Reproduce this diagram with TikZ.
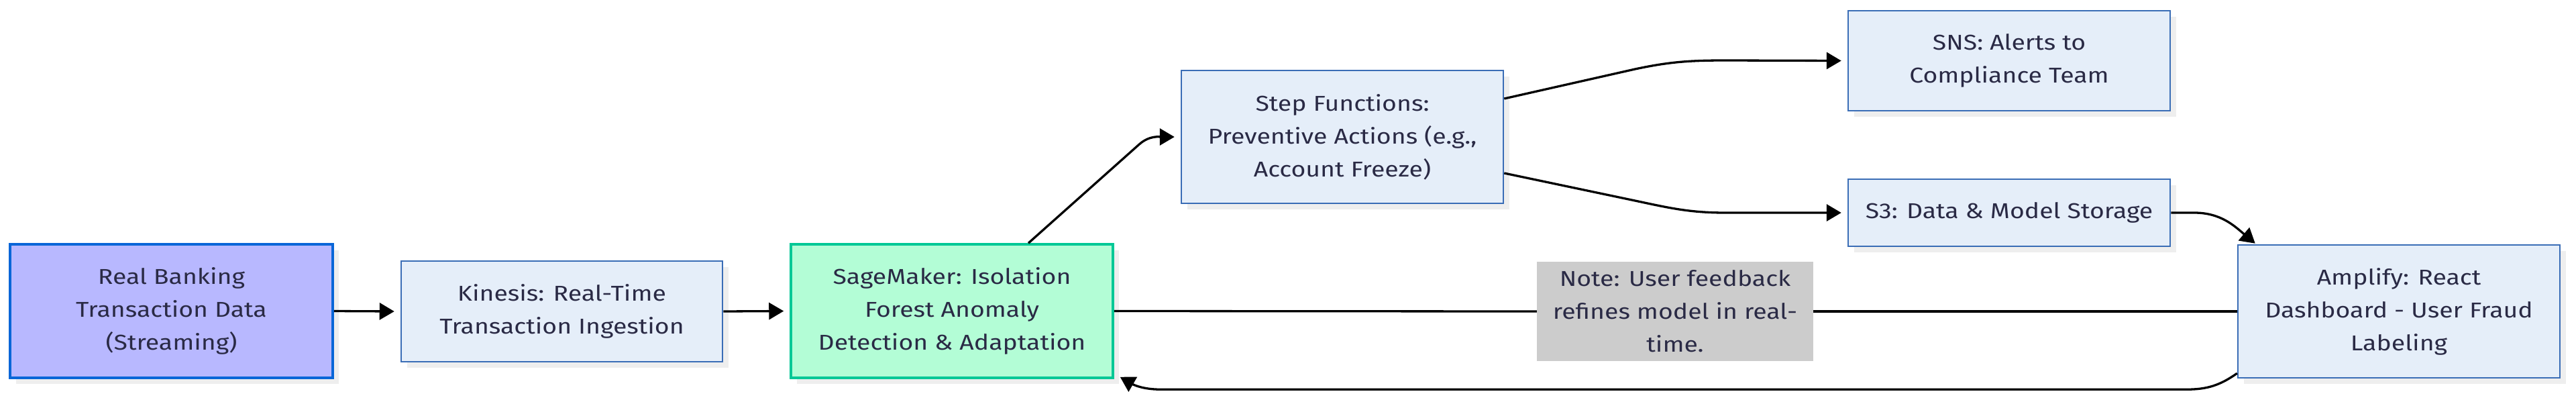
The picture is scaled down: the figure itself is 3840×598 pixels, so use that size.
\documentclass[tikz,border=0pt]{standalone}
\usepackage{fontspec}
\setmainfont{Fira Sans}[FakeStretch=1.17]
\usetikzlibrary{arrows.meta,shadows}
\definecolor{textc}{HTML}{2A2A45}
\definecolor{bluefill}{HTML}{E5EEF9}
\definecolor{bluebd}{HTML}{3A6DB6}
\definecolor{purfill}{HTML}{B8B8FF}
\definecolor{purbd}{HTML}{0A66D8}
\definecolor{grnfill}{HTML}{B3FDD6}
\definecolor{grnbd}{HTML}{00C896}
\definecolor{notefill}{HTML}{CCCCCC}
\definecolor{shadowc}{HTML}{EEEEEE}
\begin{document}
\begin{tikzpicture}[x=1pt,y=-1pt,
  box/.style={draw=bluebd, fill=bluefill, line width=2.5pt, inner sep=0pt, align=center,
    font=\fontsize{32}{49}\selectfont, text=textc, minimum width=480pt,
    general shadow={fill=shadowc, shadow xshift=9pt, shadow yshift=-9pt}},
  srcbox/.style={box, draw=purbd, fill=purfill, line width=3.5pt},
  mlbox/.style={box, draw=grnbd, fill=grnfill, line width=3.5pt},
  notebox/.style={fill=notefill, inner sep=0pt, align=center, text=textc,
    font=\fontsize{32}{49}\selectfont, minimum width=412pt, minimum height=148pt},
  link/.style={line width=3.3pt, draw=black},
  arr/.style={link, -{Triangle[length=22pt,width=25pt]}}]
\useasboundingbox (0,0) rectangle (3840,598);
\fill[white] (0,0) rectangle (3840,598);

\node[srcbox, minimum width=481pt, minimum height=199pt] (rb) at (255.5,463.5) {Real Banking\\Transaction Data\\(Streaming)};
\node[box, minimum width=479pt, minimum height=150pt] (kin) at (837.5,464) {Kinesis: Real-Time\\Transaction Ingestion};
\node[mlbox, minimum height=199pt] (sage) at (1419,463.5) {SageMaker: Isolation\\Forest Anomaly\\Detection \& Adaptation};
\node[box, minimum height=198pt] (step) at (2001,204) {Step Functions:\\Preventive Actions (e.g.,\\Account Freeze)};
\node[box, minimum height=149pt] (sns) at (2995,90.5) {SNS: Alerts to\\Compliance Team};
\node[box, minimum height=100pt] (s3) at (2995,317) {S3: Data \& Model Storage};
\node[notebox] (note) at (2497,464) {Note: User feedback\\refines model in real-\\time.};
\node[box, minimum height=198pt] (amp) at (3576,464) {Amplify: React\\Dashboard - User Fraud\\Labeling};

\draw[arr] (rb.east) -- ([xshift=-9pt]kin.west);
\draw[arr] (kin.east) -- ([xshift=-9pt]sage.west);
\draw[arr] ([xshift=114pt]sage.north) -- ++(165,-147) to[out=42,in=180] ([xshift=-9pt]step.west);
\draw[arr] ([yshift=57pt]step.east) -- ++(195,-44) to[out=12,in=180] ++(135,-13) -- ([xshift=-9pt]sns.west);
\draw[arr] ([yshift=-54pt]step.east) -- ++(195,41) to[out=-12,in=180] ++(135,18) -- ([xshift=-9pt]s3.west);
\draw[arr] (s3.east) -- ++(35,0) to[out=0,in=140] ([xshift=27pt,yshift=1pt]amp.north west);
\draw[link] (sage.east) -- (note.west);
\draw[link] (note.east) -- (amp.west);
\draw[arr] ([yshift=8pt]amp.south west) to[out=-145,in=0] ++(-75,24) -- ++(-1530,0) to[out=180,in=-30] ([xshift=9pt,yshift=3pt]sage.south east);
\end{tikzpicture}
\end{document}
